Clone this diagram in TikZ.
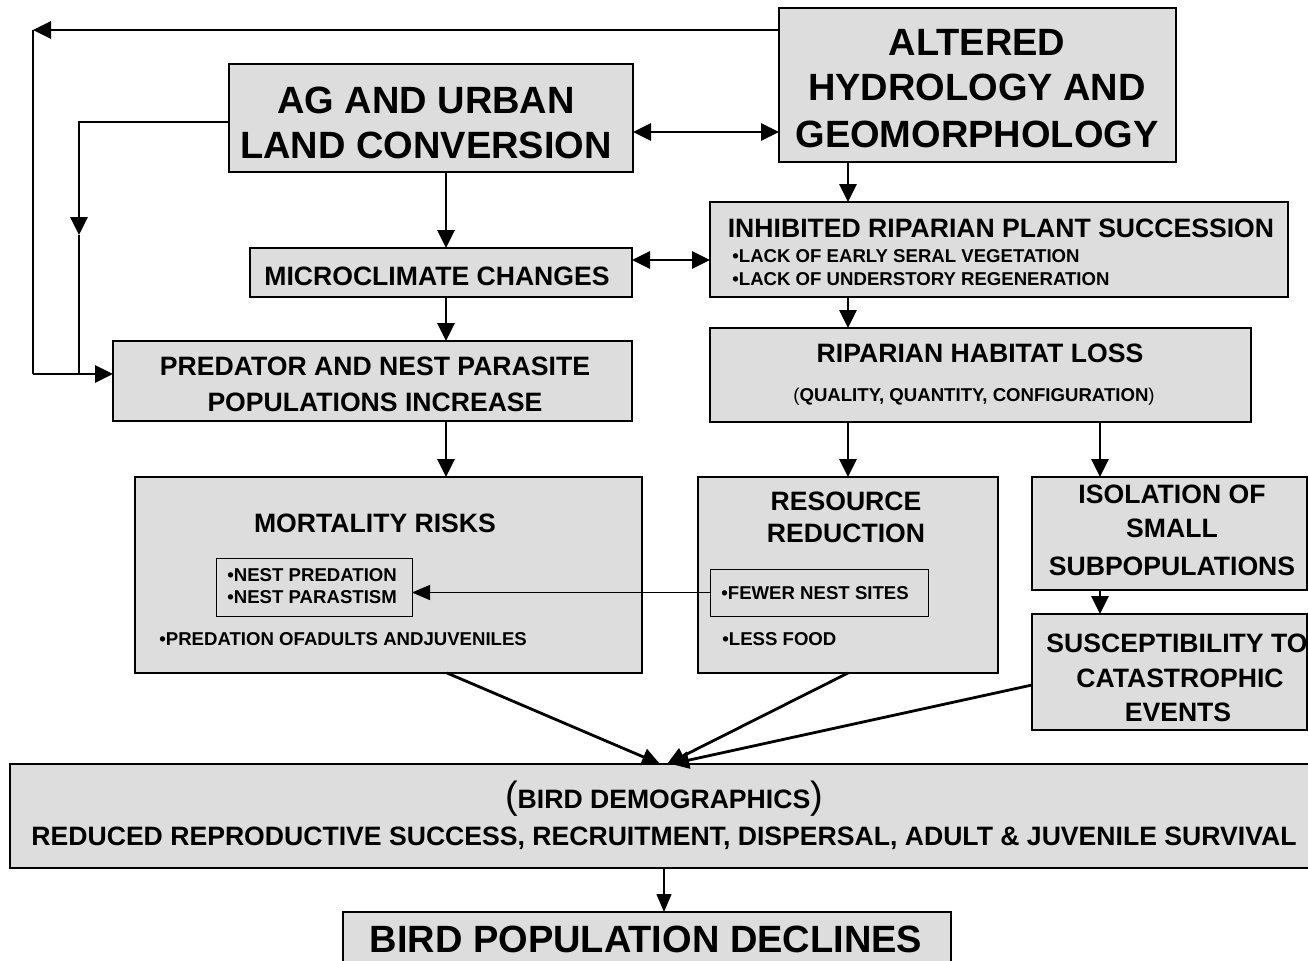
\documentclass[tikz,border=0pt]{standalone}
\usepackage{fontspec}
\setmainfont{Liberation Sans}
\usetikzlibrary{arrows.meta}
\definecolor{boxgray}{HTML}{DDDDDD}
\def\pu{*0.5pt}
\newcommand\mkbox[6][box]{\node[#1, minimum width={(#5-#3)\pu}, minimum height={(#6-#4)\pu}] (#2) at ({(#3+#5)/2},{(#4+#6)/2}) {};}
\begin{document}
\begin{tikzpicture}[x=0.5pt,y=-0.5pt,
 box/.style={draw, line width=1.4pt, fill=boxgray, inner sep=0pt, outer sep=0pt, rectangle},
 ibox/.style={draw, line width=0.5pt, fill=boxgray, inner sep=0pt, outer sep=0pt, rectangle},
 arr/.style={line width=1.4pt, -{Triangle[length=9pt,width=8.5pt]}},
 darr/.style={line width=1.4pt, {Triangle[length=9pt,width=8.5pt]}-{Triangle[length=9pt,width=8.5pt]}},
 tarr/.style={line width=0.7pt, -{Triangle[length=9pt,width=7.5pt]}},
 ln/.style={line width=1.4pt},
 big/.style={font=\fontsize{19}{23}\selectfont\bfseries, anchor=base, inner sep=0pt},
 mid/.style={font=\fontsize{13.3}{16}\selectfont\bfseries, anchor=base, inner sep=0pt},
 sml/.style={font=\fontsize{9.3}{11}\selectfont\bfseries, anchor=base west, inner sep=0pt},
 smc/.style={font=\fontsize{9.3}{11}\selectfont\bfseries, anchor=base, inner sep=0pt},
]
\useasboundingbox (0,0) rectangle (1308,960);
\clip (0,0) rectangle (1308,960);

% boxes
\mkbox{ag}{229}{64}{633}{172}
\mkbox{alt}{779}{8}{1176}{162}
\mkbox{micro}{250}{248}{632}{297}
\mkbox{inh}{710}{202}{1288}{297}
\mkbox{pred}{113}{341}{632}{421}
\mkbox{rip}{710}{328}{1251}{422}
\mkbox{mort}{135}{477}{642}{673}
\mkbox[ibox]{nest}{216}{558}{412}{616}
\mkbox{res}{698}{477}{998}{673}
\mkbox[ibox]{fns}{710}{569}{928}{616}
\mkbox{iso}{1032}{477}{1307}{590}
\mkbox{sus}{1032}{614}{1307}{730}
\mkbox{dem}{10}{764}{1316}{868}
\mkbox{bird}{343}{912}{951}{975}

% texts
\node[big] (t1) at (426,113) {AG AND URBAN};
\node[big] (t2) at (426,158) {LAND CONVERSION};
\node[big] (t3) at (977,55) {ALTERED};
\node[big] (t4) at (977,100) {HYDROLOGY AND};
\node[big] (t5) at (977,147) {GEOMORPHOLOGY};
\node[mid] (t6) at (437,285) {MICROCLIMATE CHANGES};
\node[mid] (t7) at (1001,237) {INHIBITED RIPARIAN PLANT SUCCESSION};
\node[sml] (t8) at (732,262) {•LACK OF EARLY SERAL VEGETATION};
\node[sml] (t9) at (732,285) {•LACK OF UNDERSTORY REGENERATION};
\node[mid] (t10) at (980,362) {RIPARIAN HABITAT LOSS};
\node[smc] (t11) at (974,401) {{\mdseries(}QUALITY, QUANTITY, CONFIGURATION{\mdseries)}};
\node[mid] (t12) at (375,375) {PREDATOR AND NEST PARASITE};
\node[mid] (t13) at (375,411) {POPULATIONS INCREASE};
\node[mid] (t14) at (375,532) {MORTALITY RISKS};
\node[sml] (t15) at (227,581) {•NEST PREDATION};
\node[sml] (t16) at (227,603) {•NEST PARASTISM};
\node[sml] (t17) at (159,645) {•PREDATION OFADULTS ANDJUVENILES};
\node[mid] (t18) at (846,510) {RESOURCE};
\node[mid] (t19) at (846,542) {REDUCTION};
\node[sml] (t20) at (721,599) {•FEWER NEST SITES};
\node[sml] (t21) at (722,645) {•LESS FOOD};
\node[mid] (t22) at (1172,503) {ISOLATION OF};
\node[mid] (t23) at (1172,537) {SMALL};
\node[mid] (t24) at (1172,575) {SUBPOPULATIONS};
\node[mid] (t25) at (1177,652) {SUSCEPTIBILITY TO};
\node[mid] (t26) at (1180,687) {CATASTROPHIC};
\node[mid] (t27) at (1178,721) {EVENTS};
\node[mid] (t28) at (664,808) {{\fontsize{19}{23}\selectfont\mdseries(}BIRD DEMOGRAPHICS{\fontsize{19}{23}\selectfont\mdseries)}};
\node[mid] (t29) at (664,845) {REDUCED REPRODUCTIVE SUCCESS, RECRUITMENT, DISPERSAL, ADULT \& JUVENILE SURVIVAL};
\node[big] (t30) at (646,952) {BIRD POPULATION DECLINES};

% connectors
\coordinate (cTL) at (33,30);
\coordinate (cBL) at (33,374);
\coordinate (cIT) at (79,122);
\coordinate (cIM) at (79,235);
\coordinate (cIB) at (79,374);
\draw[arr] (alt.west |- cTL) -- (cTL);
\draw[ln] (cTL) -- (cBL);
\draw[arr] (cBL) -- (pred.west |- cBL);
\draw[arr] (ag.west |- cIT) -- (cIT) -- (cIM);
\draw[ln] (cIM) -- (cIB);

\draw[darr] (ag.east |- 0,132) -- (alt.west |- 0,132);
\draw[arr] (alt.south -| 848,0) -- (inh.north -| 848,0);
\draw[arr] (ag.south -| 446,0) -- (micro.north -| 446,0);
\draw[darr] (micro.east |- 0,260) -- (inh.west |- 0,260);
\draw[arr] (micro.south -| 446,0) -- (pred.north -| 446,0);
\draw[arr] (inh.south -| 848,0) -- (rip.north -| 848,0);
\draw[arr] (pred.south -| 446,0) -- (mort.north -| 446,0);
\draw[arr] (rip.south -| 848,0) -- (res.north -| 848,0);
\draw[arr] (rip.south -| 1100,0) -- (iso.north -| 1100,0);
\draw[arr] (iso.south -| 1100,0) -- (sus.north -| 1100,0);
\draw[tarr] (fns.west) -- (nest.east |- fns.west);
\draw[arr] (mort.south -| 447,0) -- (dem.north -| 660,0);
\draw[arr] (res.south -| 848,0) -- (dem.north -| 667,0);
\draw[arr] (sus.west |- 0,685) -- (dem.north -| 671,0);
\draw[tarr] (dem.south -| 664,0) -- (bird.north -| 664,0);
\end{tikzpicture}
\end{document}
